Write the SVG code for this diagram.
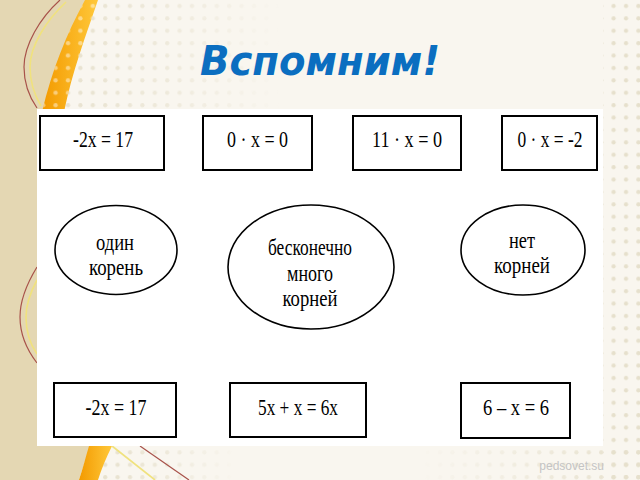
<svg xmlns="http://www.w3.org/2000/svg" width="640" height="480" viewBox="0 0 640 480">
<style>
.box{fill:#fff;stroke:#000;stroke-width:2}
.ell{fill:#fff;stroke:#000;stroke-width:1.6}
.eq{font-family:"Liberation Serif","Times New Roman",serif;font-size:24px;fill:#000;text-anchor:middle}
.lbl{font-family:"Liberation Serif","Times New Roman",serif;font-size:23px;fill:#000;text-anchor:middle}
.red{fill:none;stroke:#A8524A;stroke-width:1.2}
.yel{fill:none;stroke:#F0E27E;stroke-width:1.6}
</style>
<defs>
<pattern id="dots" patternUnits="userSpaceOnUse" width="12.4" height="12.4">
<circle cx="6" cy="6" r="2.1" fill="#E6E0CC"/>
</pattern>
<pattern id="wdots" patternUnits="userSpaceOnUse" width="12.4" height="12.4">
<circle cx="6" cy="6" r="2.2" fill="#FFFFFF" fill-opacity="0.45"/>
</pattern>
<linearGradient id="orng" x1="0" y1="0" x2="1" y2="0">
<stop offset="0" stop-color="#F39A00"/>
<stop offset="1" stop-color="#FFC83A"/>
</linearGradient>
<linearGradient id="fadeR" x1="0" y1="0" x2="1" y2="0">
<stop offset="0" stop-color="#fff" stop-opacity="1"/>
<stop offset="0.5" stop-color="#fff" stop-opacity="0.6"/>
<stop offset="1" stop-color="#fff" stop-opacity="0"/>
</linearGradient>
<linearGradient id="fadeL" x1="0" y1="0" x2="1" y2="0">
<stop offset="0" stop-color="#fff" stop-opacity="0"/>
<stop offset="1" stop-color="#fff" stop-opacity="1"/>
</linearGradient>
<mask id="mA" maskUnits="userSpaceOnUse" x="40" y="0" width="240" height="110"><rect x="40" y="0" width="240" height="110" fill="url(#fadeR)"/></mask>
<mask id="mC" maskUnits="userSpaceOnUse" x="420" y="446" width="220" height="34"><rect x="420" y="446" width="220" height="34" fill="url(#fadeL)"/></mask>
<mask id="mD" maskUnits="userSpaceOnUse" x="95" y="446" width="140" height="34"><rect x="95" y="446" width="140" height="34" fill="url(#fadeR)"/></mask>
</defs>

<g id="background">
<rect x="0" y="0" width="640" height="480" fill="#F9F6EF"/>
<rect x="40" y="0" width="240" height="110" fill="url(#dots)" mask="url(#mA)"/>
<rect x="603" y="0" width="37" height="480" fill="url(#dots)"/>
<rect x="420" y="446" width="220" height="34" fill="url(#dots)" mask="url(#mC)"/>
<rect x="95" y="446" width="140" height="34" fill="url(#dots)" mask="url(#mD)"/>
<path d="M0,0 L88,0 C70,40 52,80 42,115 L42,440 L90,446 C86,458 82,470 79,480 L0,480 Z" fill="#E4D7B3"/>
<path d="M85,0 L98,0 C86,35 72,72 64,112 L42,112 C52,70 66,35 85,0 Z" fill="url(#orng)"/>
<path d="M85,0 L98,0 C86,35 72,72 64,112 L42,112 C52,70 66,35 85,0 Z" fill="url(#wdots)"/>
<path d="M89,446 L112,446 C106,458 101,470 98,480 L79,480 C83,468 86,456 89,446 Z" fill="url(#orng)"/>
<path d="M60,0 C40,18 24,45 24,67 C24,85 30,98 37,108" class="red"/>
<path d="M66,2 C47,20 30,45 30,67 C30,84 35,96 41,106" class="yel"/>
<path d="M37,267 C26,285 20,300 20,317 C20,335 27,350 37,363" class="red"/>
<path d="M37,280 C30,293 26,305 26,317 C26,331 30,344 37,354" class="yel"/>
<path d="M112,446 L155,480" class="yel"/>
<path d="M140,446 L189,480" class="red"/>
<text x="604" y="470" text-anchor="end" font-family="Liberation Sans, Arial, sans-serif" font-size="12" fill="#C4C4C4">pedsovet.su</text>
</g>

<g id="title">
<text x="320" y="75" text-anchor="middle" font-family="DejaVu Sans, Verdana, sans-serif" font-weight="bold" font-style="italic" font-size="40" fill="#0B6EC0" textLength="240" lengthAdjust="spacingAndGlyphs">Вспомним!</text>
</g>

<g id="panel">
<rect x="37" y="109" width="566" height="337" fill="#FFFFFF"/>
</g>

<g id="connectors"></g>

<g id="eq1">
<rect class="box" x="40" y="116" width="124" height="54"/>
<text class="eq" x="103" y="147" textLength="60" lengthAdjust="spacingAndGlyphs">-2x = 17</text>
</g>
<g id="eq2">
<rect class="box" x="203" y="116" width="109" height="54"/>
<text class="eq" x="257.5" y="147" textLength="61" lengthAdjust="spacingAndGlyphs">0 · x = 0</text>
</g>
<g id="eq3">
<rect class="box" x="353" y="116" width="108" height="54"/>
<text class="eq" x="407" y="147" textLength="70" lengthAdjust="spacingAndGlyphs">11 · x = 0</text>
</g>
<g id="eq4">
<rect class="box" x="502" y="116" width="95" height="54"/>
<text class="eq" x="550" y="147" textLength="65" lengthAdjust="spacingAndGlyphs">0 · x = -2</text>
</g>

<g id="one-root">
<ellipse class="ell" cx="116" cy="250" rx="61" ry="44.5"/>
<text class="lbl" x="115" y="250" textLength="38" lengthAdjust="spacingAndGlyphs">один</text>
<text class="lbl" x="116" y="275" textLength="54" lengthAdjust="spacingAndGlyphs">корень</text>
</g>
<g id="infinite-roots">
<ellipse class="ell" cx="311" cy="267" rx="83" ry="62"/>
<text class="lbl" x="310" y="255" textLength="84" lengthAdjust="spacingAndGlyphs">бесконечно</text>
<text class="lbl" x="310" y="281" textLength="46" lengthAdjust="spacingAndGlyphs">много</text>
<text class="lbl" x="310" y="306" textLength="55" lengthAdjust="spacingAndGlyphs">корней</text>
</g>
<g id="no-roots">
<ellipse class="ell" cx="523" cy="250" rx="62" ry="45"/>
<text class="lbl" x="522" y="248" textLength="26" lengthAdjust="spacingAndGlyphs">нет</text>
<text class="lbl" x="522" y="273" textLength="56" lengthAdjust="spacingAndGlyphs">корней</text>
</g>

<g id="eq5">
<rect class="box" x="54" y="383" width="122" height="54"/>
<text class="eq" x="116" y="415" textLength="61" lengthAdjust="spacingAndGlyphs">-2x = 17</text>
</g>
<g id="eq6">
<rect class="box" x="230" y="383" width="136" height="54"/>
<text class="eq" x="298" y="415" textLength="80" lengthAdjust="spacingAndGlyphs">5x + x = 6x</text>
</g>
<g id="eq7">
<rect class="box" x="461" y="383" width="109" height="55"/>
<text class="eq" x="516" y="415" textLength="66" lengthAdjust="spacingAndGlyphs">6 – x = 6</text>
</g>
</svg>
